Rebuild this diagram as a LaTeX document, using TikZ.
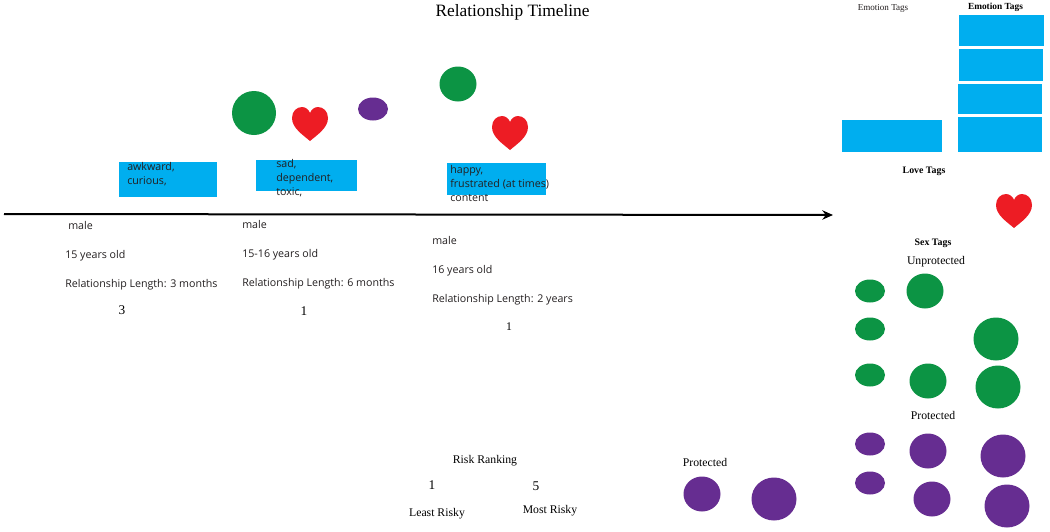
\documentclass[tikz,border=0pt]{standalone}
\usepackage{fontspec}
\setmainfont{Liberation Serif}
\newfontfamily\lab{Open Sans}
\usetikzlibrary{arrows.meta}
\definecolor{tagblue}{HTML}{00AEEF}
\definecolor{sexgreen}{HTML}{0C9444}
\definecolor{sexpurple}{HTML}{662D91}
\definecolor{lovered}{HTML}{ED1C24}
\definecolor{labink}{HTML}{231F20}
\tikzset{
  x=0.75pt,y=-0.75pt,
  tagrect/.style={fill=tagblue,draw=none},
  serif/.style={inner sep=0pt,text=black,font=\fontsize{8.8}{10}\selectfont},
  tagtitle/.style={serif,font=\bfseries\fontsize{7}{8}\selectfont},
  sans/.style={inner sep=0pt,anchor=west,text=labink,font=\lab\fontsize{8}{10}\selectfont},
  stack/.style={sans,align=left,font=\lab\fontsize{8}{10.6}\selectfont},
  heart/.pic={\fill[lovered] (0,17) .. controls (-7,11) and (-18,4) .. (-18,-6) .. controls (-18,-13) and (-13,-17) .. (-8,-17) .. controls (-4,-17) and (-1,-14) .. (0,-11) .. controls (1,-14) and (4,-17) .. (8,-17) .. controls (13,-17) and (18,-13) .. (18,-6) .. controls (18,4) and (7,11) .. (0,17) -- cycle;}
}
\newcommand{\blobat}[5]{\fill[#1] (#2,#3) ellipse [x radius=#4*0.75pt,y radius=#5*0.75pt];}
\begin{document}
\begin{tikzpicture}
\useasboundingbox (0,0) rectangle (1050,532);
% tag rectangles
\fill[tagrect] (119,162) rectangle (217,197);
\fill[tagrect] (256,160) rectangle (357,191);
\fill[tagrect] (447,163) rectangle (546,195);
\fill[tagrect] (842,120) rectangle (942,152);
\fill[tagrect] (959,15) rectangle (1044,46);
\fill[tagrect] (959,49) rectangle (1043,81);
\fill[tagrect] (958,84) rectangle (1042,114);
\fill[tagrect] (958,117) rectangle (1042,152);
% green
\blobat{sexgreen}{254}{113}{22}{22}
\blobat{sexgreen}{458}{84}{18.5}{17.5}
\blobat{sexgreen}{870}{291}{15}{11.5}
\blobat{sexgreen}{925}{291}{18.5}{17.5}
\blobat{sexgreen}{870}{329}{15}{11.5}
\blobat{sexgreen}{870}{375}{15}{11.5}
\blobat{sexgreen}{928}{381}{18.5}{17.5}
\blobat{sexgreen}{996}{339}{22.5}{21.5}
\blobat{sexgreen}{998}{387}{22.5}{21.5}
% purple
\blobat{sexpurple}{373}{109}{15}{11.5}
\blobat{sexpurple}{870}{444}{15}{11.5}
\blobat{sexpurple}{928}{451}{18.5}{17.5}
\blobat{sexpurple}{1003}{456}{22.5}{21.5}
\blobat{sexpurple}{870}{483}{15}{11.5}
\blobat{sexpurple}{932}{499}{18.5}{17.5}
\blobat{sexpurple}{1007}{506}{22.5}{21.5}
\blobat{sexpurple}{702}{494}{18.5}{17.5}
\blobat{sexpurple}{774}{499}{22.5}{21.5}
% hearts
\pic at (310,124) {heart};
\pic at (510,133) {heart};
\pic at (1014,211) {heart};
% timeline
\coordinate (tstart) at (4,214);
\coordinate (tend) at (833,215);
\draw[line width=1.5pt,-{Stealth[length=8pt,width=7pt]}] (tstart) -- (tend);
% title and serif labels
\node[serif,font=\fontsize{13}{15}\selectfont] (title) at (512.5,12) {Relationship Timeline};
\node[serif,text=labink,font=\fontsize{6.8}{8}\selectfont] (e1) at (883,8) {Emotion Tags};
\node[tagtitle] (e2) at (995.5,7) {Emotion Tags};
\node[tagtitle,font=\bfseries\fontsize{7.4}{8}\selectfont] (lovet) at (924,171) {Love Tags};
\node[tagtitle,font=\bfseries\fontsize{7.4}{8}\selectfont] (sext) at (933,243) {Sex Tags};
\node[serif] (unp) at (936,262) {Unprotected};
\node[serif] (pr1) at (933,415) {Protected};
\node[serif] (pr2) at (705,462) {Protected};
\node[serif] (risk) at (485,461) {Risk Ranking};
\node[serif,font=\fontsize{10}{12}\selectfont] (r1) at (432,485) {1};
\node[serif,font=\fontsize{10}{12}\selectfont] (r5) at (536,486) {5};
\node[serif] (least) at (437,514) {Least Risky};
\node[serif] (most) at (550,511) {Most Risky};
% tag text
\node[stack] (t1) at (127,174) {awkward,\\curious,};
\node[stack] (t2) at (276,178) {sad,\\dependent,\\toxic,};
\node[stack] (t3) at (450,183.5) {happy,\\frustrated (at times)\\content};
% columns
\node[sans] (a1) at (68,225) {male};
\node[sans] (a2) at (65,256) {15 years old};
\node[sans] (a3) at (65,285) {Relationship Length: 3 months};
\node[serif,font=\fontsize{10}{12}\selectfont] (a4) at (122,310) {3};
\node[sans] (b1) at (242,224) {male};
\node[sans] (b2) at (242,255) {15-16 years old};
\node[sans] (b3) at (242,284) {Relationship Length: 6 months};
\node[serif,font=\fontsize{10}{12}\selectfont] (b4) at (304,311) {1};
\node[sans] (c1) at (432,240) {male};
\node[sans] (c2) at (432,271) {16 years old};
\node[sans] (c3) at (432,300) {Relationship Length: 2 years};
\node[serif] (c4) at (509,327) {1};
\end{tikzpicture}
\end{document}
